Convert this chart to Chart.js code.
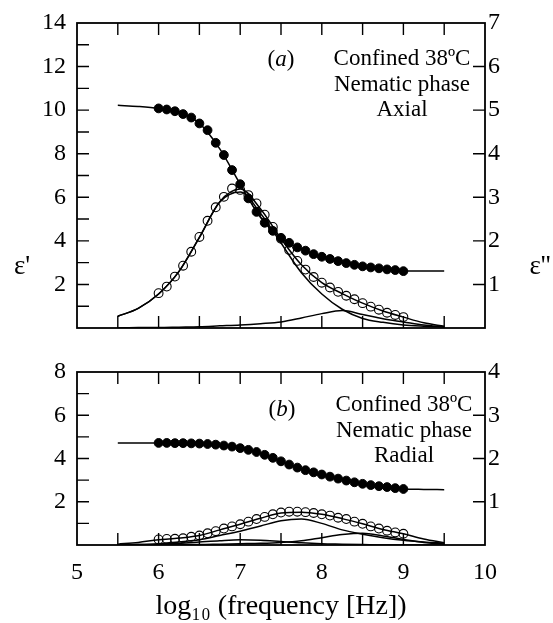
<!DOCTYPE html>
<html>
<head>
<meta charset="utf-8">
<script src="https://cdn.jsdelivr.net/npm/chart.js"></script>
<style>
  html, body { margin: 0; padding: 0; background: #fff; }
  #wrap { position: relative; width: 553px; height: 623px; }
  canvas { position: absolute; left: 0; }
  #panel-a { top: 0; }
  #panel-b { top: 340px; }
</style>
</head>
<body>
<div id="wrap">
  <canvas id="panel-a" width="553" height="340"></canvas>
  <canvas id="panel-b" width="553" height="283"></canvas>
</div>
<script>
// ===================== DATA =====================

// measured frequencies (log10 Hz)
const freqPts = [6.0, 6.1, 6.2, 6.3, 6.4, 6.5, 6.6, 6.7, 6.8, 6.9, 7.0, 7.1, 7.2, 7.3, 7.4, 7.5,
  7.6, 7.7, 7.8, 7.9, 8.0, 8.1, 8.2, 8.3, 8.4, 8.5, 8.6, 8.7, 8.8, 8.9, 9.0];
// fit curve frequencies
const freqFit = [5.5, 5.75, 6.0, 6.25, 6.5, 6.75, 7.0, 7.25, 7.5, 7.75, 8.0, 8.25, 8.5, 8.75, 9.0, 9.25, 9.5];

// (a) axial: eps' on left axis, eps'' on right axis
const epsRealA = [10.08, 10.03, 9.95, 9.82, 9.66, 9.39, 9.08, 8.50, 7.94, 7.25, 6.60, 5.95, 5.33, 4.83, 4.46, 4.14,
  3.91, 3.70, 3.55, 3.39, 3.27, 3.17, 3.07, 2.98, 2.90, 2.83, 2.78, 2.74, 2.69, 2.66, 2.61];
const epsLossA = [0.80, 0.95, 1.18, 1.43, 1.75, 2.09, 2.46, 2.77, 3.01, 3.20, 3.17, 3.05, 2.86, 2.60, 2.32, 2.05,
  1.79, 1.54, 1.34, 1.17, 1.04, 0.93, 0.83, 0.74, 0.66, 0.57, 0.49, 0.42, 0.35, 0.30, 0.25];
const fitRealA = [10.22, 10.17, 10.08, 9.90, 9.39, 8.22, 6.60, 5.07, 4.12, 3.62, 3.27, 3.02, 2.84, 2.72, 2.62, 2.62, 2.62];
const fitLossA = [0.27, 0.45, 0.78, 1.30, 2.08, 2.90, 3.19, 2.73, 2.05, 1.45, 1.04, 0.79, 0.57, 0.39, 0.25, 0.12, 0.04];
const fitMainA = [0.27, 0.45, 0.78, 1.30, 2.08, 2.89, 3.12, 2.63, 1.95, 1.27, 0.78, 0.43, 0.22, 0.13, 0.07, 0.04, 0.02];
const fitSecA  = [0.00, 0.01, 0.01, 0.02, 0.03, 0.05, 0.07, 0.10, 0.14, 0.23, 0.33, 0.40, 0.31, 0.21, 0.14, 0.07, 0.03];

// (b) radial
const epsRealB = [4.72, 4.72, 4.71, 4.71, 4.70, 4.69, 4.67, 4.64, 4.60, 4.55, 4.48, 4.40, 4.30, 4.17, 4.03, 3.87,
  3.72, 3.58, 3.46, 3.36, 3.26, 3.16, 3.07, 2.98, 2.90, 2.83, 2.77, 2.72, 2.68, 2.63, 2.59];
const epsLossB = [0.13, 0.14, 0.145, 0.155, 0.19, 0.22, 0.27, 0.32, 0.38, 0.43, 0.48, 0.54, 0.60, 0.65, 0.71, 0.75,
  0.77, 0.77, 0.76, 0.74, 0.71, 0.68, 0.63, 0.60, 0.54, 0.49, 0.43, 0.38, 0.33, 0.29, 0.26];
const fitRealB = [4.72, 4.72, 4.72, 4.71, 4.69, 4.62, 4.48, 4.24, 3.87, 3.52, 3.26, 3.03, 2.83, 2.70, 2.59, 2.57, 2.56];
const fitLossB = [0.02, 0.06, 0.12, 0.16, 0.22, 0.35, 0.48, 0.62, 0.74, 0.76, 0.71, 0.61, 0.49, 0.36, 0.26, 0.14, 0.05];
const fitMainB = [0.00, 0.01, 0.03, 0.07, 0.12, 0.22, 0.32, 0.44, 0.56, 0.60, 0.50, 0.35, 0.25, 0.17, 0.11, 0.07, 0.04];
const fitSecB  = [0.00, 0.00, 0.00, 0.01, 0.01, 0.02, 0.03, 0.04, 0.06, 0.10, 0.17, 0.24, 0.27, 0.21, 0.13, 0.06, 0.02];
const fitThirdB = [0.00, 0.01, 0.02, 0.04, 0.07, 0.10, 0.12, 0.11, 0.08, 0.05, 0.03, 0.02, 0.01, 0.00, 0.00, 0.00, 0.00];

// ticks
const xTicks = [5, 6, 7, 8, 9, 10];
const xInnerTicks = [5.5, 6, 6.5, 7, 7.5, 8, 8.5, 9, 9.5];
const leftTicksA = [2, 4, 6, 8, 10, 12, 14];
const rightTicksA = [1, 2, 3, 4, 5, 6, 7];
const leftInnerA = [1, 2, 3, 4, 5, 6, 7, 8, 9, 10, 11, 12, 13];
const rightInnerA = [1, 2, 3, 4, 5, 6];
const leftTicksB = [2, 4, 6, 8];
const rightTicksB = [1, 2, 3, 4];
const leftInnerB = [1, 2, 3, 4, 5, 6, 7];
const rightInnerB = [1, 2, 3];

const SERIF = '"Liberation Serif", "Times New Roman", serif';
Chart.defaults.font.family = SERIF;
Chart.defaults.color = '#000';

const pairs = (xs, ys) => xs.map((x, i) => ({ x: x, y: ys[i] }));

function filledSet(ys) {
  return { data: pairs(freqPts, ys), yAxisID: 'y', showLine: false, order: 0,
    pointRadius: 4.4, pointBackgroundColor: '#000', pointBorderColor: '#000', pointBorderWidth: 1 };
}
function openSet(ys) {
  return { data: pairs(freqPts, ys), yAxisID: 'y1', showLine: false, order: 0,
    pointRadius: 4.4, pointBackgroundColor: 'rgba(0,0,0,0)', pointBorderColor: '#000', pointBorderWidth: 1.1 };
}
function fitSet(ys, axis) {
  return { data: pairs(freqFit, ys), yAxisID: axis, order: 1, pointRadius: 0,
    borderColor: '#000', borderWidth: 1.5, cubicInterpolationMode: 'monotone', fill: false };
}

// frame, inner ticks and the texts inside each panel
const panelDecor = {
  id: 'panelDecor',
  afterDatasetsDraw(chart, args, opts) {
    const { ctx, chartArea: a, scales } = chart;
    const tl = 12;
    ctx.save();
    ctx.strokeStyle = '#000';
    ctx.lineWidth = 1.4;
    ctx.beginPath();
    xInnerTicks.forEach(v => {
      const px = scales.x.getPixelForValue(v);
      ctx.moveTo(px, a.top); ctx.lineTo(px, a.top + tl);
      ctx.moveTo(px, a.bottom); ctx.lineTo(px, a.bottom - tl);
    });
    opts.leftInner.forEach(v => {
      const py = scales.y.getPixelForValue(v);
      ctx.moveTo(a.left, py); ctx.lineTo(a.left + tl, py);
    });
    opts.rightInner.forEach(v => {
      const py = scales.y1.getPixelForValue(v);
      ctx.moveTo(a.right, py); ctx.lineTo(a.right - tl, py);
    });
    ctx.stroke();
    ctx.lineWidth = 1.8;
    ctx.strokeRect(a.left, a.top, a.right - a.left, a.bottom - a.top);

    // panel letter, e.g. (a) with italic letter
    ctx.fillStyle = '#000';
    ctx.textBaseline = 'middle';
    ctx.textAlign = 'left';
    const up = '23px ' + SERIF, it = 'italic 23px ' + SERIF;
    ctx.font = up; const wp = ctx.measureText('(').width, wq = ctx.measureText(')').width;
    ctx.font = it; const wl = ctx.measureText(opts.letter).width;
    let lx = opts.letterX - (wp + wl + wq) / 2;
    ctx.font = up; ctx.fillText('(', lx, opts.letterY); lx += wp;
    ctx.font = it; ctx.fillText(opts.letter, lx, opts.letterY); lx += wl;
    ctx.font = up; ctx.fillText(')', lx, opts.letterY);

    ctx.textAlign = 'center';
    ctx.font = up;
    opts.lines.forEach((t, i) => ctx.fillText(t, opts.textX, opts.textY + i * 25.5));

    if (opts.axisSymbols) {
      ctx.font = '27px ' + SERIF;
      ctx.fillText("ε'", 22, opts.symbolY);
      ctx.fillText("ε''", 540, opts.symbolY);
    }
    ctx.restore();
  }
};

// drop the label half-height padding so the plot box sits where we put it
const noEdgePad = s => { s.paddingTop = 0; s.paddingBottom = 0; };

function makePanel(canvasId, cfg) {
  const ctx = document.getElementById(canvasId);
  if (!ctx) return;
  new Chart(ctx, {
    type: 'line',
    data: { datasets: cfg.datasets },
    options: {
      responsive: false,
      animation: false,
      devicePixelRatio: 1,
      layout: { padding: cfg.padding },
      plugins: { legend: { display: false }, tooltip: { enabled: false }, panelDecor: cfg.decor },
      scales: {
        x: {
          type: 'linear', min: 5, max: 10,
          display: cfg.showX,
          afterBuildTicks: s => { s.ticks = xTicks.map(v => ({ value: v })); },
          afterFit: s => { if (cfg.showX) s.height = 78; s.paddingLeft = 0; s.paddingRight = 0; },
          grid: { display: false, drawTicks: false },
          border: { display: false },
          ticks: { font: { size: 24 }, padding: 13, color: '#000', maxRotation: 0, autoSkip: false },
          title: { display: true, text: 'log₁₀ (frequency [Hz])', font: { size: 28 }, padding: 0, color: '#000' }
        },
        y: {
          position: 'left', min: 0, max: cfg.leftMax,
          afterBuildTicks: s => { s.ticks = cfg.leftTicks.map(v => ({ value: v })); },
          afterFit: s => { s.width = 77; noEdgePad(s); },
          grid: { display: false, drawTicks: false },
          border: { display: false },
          ticks: { font: { size: 24 }, padding: 11, color: '#000' }
        },
        y1: {
          position: 'right', min: 0, max: cfg.leftMax / 2,
          afterBuildTicks: s => { s.ticks = cfg.rightTicks.map(v => ({ value: v })); },
          afterFit: s => { s.width = 68; noEdgePad(s); },
          grid: { display: false, drawTicks: false },
          border: { display: false },
          ticks: { font: { size: 24 }, padding: 3, color: '#000' }
        }
      }
    },
    plugins: [panelDecor]
  });
}

// ===================== PANEL (a) =====================
makePanel('panel-a', {
  padding: { top: 23, bottom: 12, left: 0, right: 0 },
  showX: false,
  leftMax: 14,
  leftTicks: leftTicksA,
  rightTicks: rightTicksA,
  datasets: [
    filledSet(epsRealA),
    openSet(epsLossA),
    fitSet(fitRealA, 'y'),
    fitSet(fitLossA, 'y1'),
    fitSet(fitMainA, 'y1'),
    fitSet(fitSecA, 'y1')
  ],
  decor: {
    leftInner: leftInnerA, rightInner: rightInnerA,
    letter: 'a', letterX: 281, letterY: 60,
    lines: ['Confined 38ºC', 'Nematic phase', 'Axial'], textX: 402, textY: 59,
    axisSymbols: true, symbolY: 267
  }
});

// ===================== PANEL (b) =====================
makePanel('panel-b', {
  padding: { top: 32, bottom: 0, left: 0, right: 0 },
  showX: true,
  leftMax: 8,
  leftTicks: leftTicksB,
  rightTicks: rightTicksB,
  datasets: [
    filledSet(epsRealB),
    openSet(epsLossB),
    fitSet(fitRealB, 'y'),
    fitSet(fitLossB, 'y1'),
    fitSet(fitMainB, 'y1'),
    fitSet(fitSecB, 'y1'),
    fitSet(fitThirdB, 'y1')
  ],
  decor: {
    leftInner: leftInnerB, rightInner: rightInnerB,
    letter: 'b', letterX: 282, letterY: 70,
    lines: ['Confined 38ºC', 'Nematic phase', 'Radial'], textX: 404, textY: 65,
    axisSymbols: false
  }
});
</script>
</body>
</html>
